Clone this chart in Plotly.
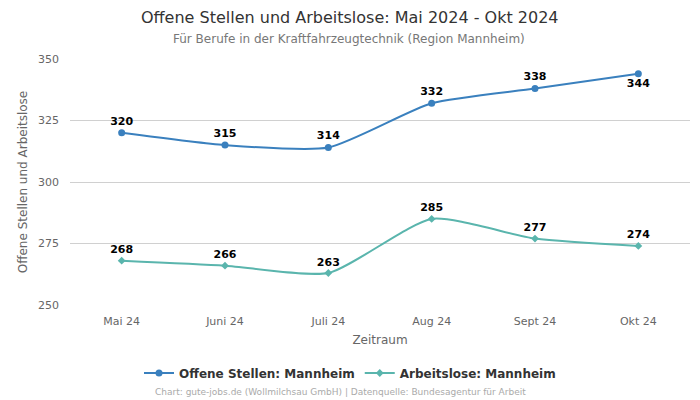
import plotly.graph_objects as go

months = ["Mai 24", "Juni 24", "Juli 24", "Aug 24", "Sept 24", "Okt 24"]
offene = [320, 315, 314, 332, 338, 344]
arbeitslose = [268, 266, 263, 285, 277, 274]
offene_pos = ["top center"] * 5 + ["bottom center"]
arb_pos = ["top center"] * 6

FONT = "DejaVu Sans, Verdana, sans-serif"
BLUE = "#3a80be"
TEAL = "#5ab5ad"

fig = go.Figure()
fig.add_trace(go.Scatter(
    x=months, y=offene, name="Offene Stellen: Mannheim",
    mode="lines+markers+text", line=dict(color=BLUE, width=2, shape="spline", smoothing=0.6),
    marker=dict(symbol="circle", size=7, color=BLUE),
    text=[str(v) for v in offene], textposition=offene_pos,
    textfont=dict(family=FONT, size=11, color="#000000", weight="bold"),
))
fig.add_trace(go.Scatter(
    x=months, y=arbeitslose, name="Arbeitslose: Mannheim",
    mode="lines+markers+text", line=dict(color=TEAL, width=2, shape="spline", smoothing=0.6),
    marker=dict(symbol="diamond", size=6, color=TEAL),
    text=[str(v) for v in arbeitslose], textposition=arb_pos,
    textfont=dict(family=FONT, size=11, color="#000000", weight="bold"),
))

fig.update_layout(
    width=700, height=400,
    margin=dict(l=70, r=10, t=59, b=95, autoexpand=False),
    paper_bgcolor="white", plot_bgcolor="white",
    font=dict(family=FONT, color="#666666", size=11),
    xaxis=dict(
        range=[-0.5, 5.5], showgrid=False, zeroline=False, automargin=False,
        title=dict(text="Zeitraum", font=dict(size=12, color="#666666"), standoff=8),
        ticks="", showline=False, tickfont=dict(size=11, color="#666666"),
        ticklabelstandoff=8,
    ),
    yaxis=dict(
        range=[250, 350], tickvals=[250, 275, 300, 325, 350], automargin=False,
        gridcolor="#d0d0d0", gridwidth=1, zeroline=False, showline=False,
        title=dict(text="Offene Stellen und Arbeitslose", font=dict(size=12, color="#666666"), standoff=7),
        tickfont=dict(size=11, color="#666666"),
        ticklabelstandoff=10,
    ),
    legend=dict(
        orientation="h", x=0.5, xanchor="center", xref="container",
        y=27 / 400, yanchor="middle", yref="container",
        font=dict(family=FONT, size=12, color="#333333", weight="bold"),
    ),
    showlegend=True,
)
def ann(text, xpx, ypx, size, color):
    fig.add_annotation(
        text=text, xref="paper", yref="paper", x=(xpx - 70) / 620,
        y=(305 - ypx) / 246, xanchor="center", yanchor="middle",
        showarrow=False, font=dict(family=FONT, size=size, color=color),
    )
ann("Offene Stellen und Arbeitslose: Mai 2024 - Okt 2024", 350, 17, 16, "#333333")
ann("Für Berufe in der Kraftfahrzeugtechnik (Region Mannheim)", 349, 39, 12, "#777777")
ann("Chart: gute-jobs.de (Wollmilchsau GmbH) | Datenquelle: Bundesagentur für Arbeit", 340, 392, 9, "#aaaaaa")
fig.write_html("out.html", config={"displayModeBar": False},
               post_script="document.body.style.margin='0';")
